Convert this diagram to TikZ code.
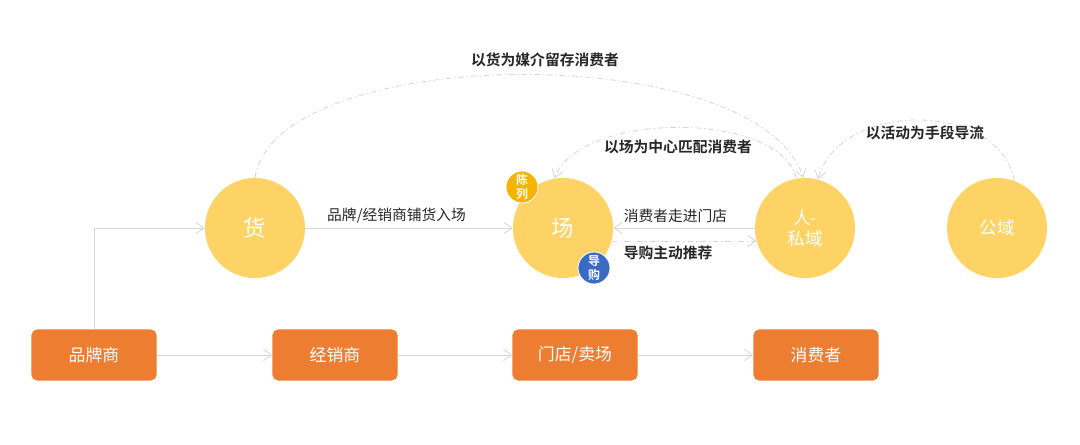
\documentclass[tikz,border=0pt]{standalone}
\usepackage{fontspec}
\setmainfont{Noto Sans CJK SC}[BoldFont={Noto Sans CJK SC Bold}]
\usetikzlibrary{arrows.meta}
\definecolor{roleyellow}{HTML}{FDD365}
\definecolor{tierorange}{HTML}{ED7D31}
\definecolor{badgegold}{HTML}{F4B400}
\definecolor{badgeblue}{HTML}{3A6BC4}
\definecolor{linegray}{HTML}{D6D6D6}
\definecolor{darktext}{HTML}{262626}

\begin{document}
\begin{tikzpicture}[x=0.025cm, y=-0.025cm,
    role/.style={circle, fill=roleyellow, text=white, minimum size=2.5cm, inner sep=0pt, align=center, font=\fontsize{12.5}{15}\selectfont},
    tier/.style={rectangle, rounded corners=0.14cm, fill=tierorange, text=white, minimum width=3.125cm, minimum height=1.275cm, font=\fontsize{12}{14}\selectfont},
    badge/.style={circle, draw=white, line width=0.6pt, text=white, minimum size=0.8cm, inner sep=0pt, align=center, font=\bfseries\fontsize{8.5}{9.6}\selectfont},
    flow/.style={draw=linegray, line width=0.6pt, -{Straight Barb[length=0.2cm,width=0.28cm]}},
    backflow/.style={flow, dash pattern=on 4pt off 2pt on 1pt off 2pt},
    note/.style={text=darktext, font=\fontsize{10.5}{12}\selectfont},
    boldnote/.style={note, font=\bfseries\fontsize{10.5}{12}\selectfont}]

    \useasboundingbox (0,0) rectangle (1080,445);

    \node [role, font=\fontsize{16}{18}\selectfont] (goods) at (255,228) {货};
    \node [role, font=\fontsize{16}{18}\selectfont] (field) at (563,228) {场};
    \node [role] (person) at (805,228) {人-\\私域};
    \node [role] (public) at (997,228) {公域};

    \node [badge, fill=badgegold] (display) at (522,187) {陈\\列};
    \node [badge, fill=badgeblue] (guide) at (594,268) {导\\购};

    \node [tier] (brand) at (94,355) {品牌商};
    \node [tier] (dealer) at (335,355) {经销商};
    \node [tier] (store) at (575,355) {门店/卖场};
    \node [tier] (consumer) at (816,355) {消费者};

    \draw [flow] (brand) -- (dealer);
    \draw [flow] (dealer) -- (store);
    \draw [flow] (store) -- (consumer);
    \draw [flow] (brand.north) |- (goods.west);

    \draw [flow] (goods.east) -- (field.west) node[note, above, pos=0.44] (stocking) {品牌/经销商铺货入场};
    \draw [flow] (person.west) -- (field.east) node[note, above, pos=0.56] (walkin) {消费者走进门店};
    \draw [backflow] (field.-15) -- (person.195) node[boldnote, below, pos=0.39] (recommend) {导购主动推荐};

    \draw [backflow] (goods.north) .. controls +(20,-135) and +(-45,-140) .. (person.92);
    \draw [backflow] (person.100) .. controls +(-16,-68) and +(26,-68) .. (field.100);
    \draw [backflow] (public.70) .. controls +(-14,-80) and +(22,-80) .. (person.75);

    \node [boldnote] (keepgoods) at (545,60) {以货为媒介留存消费者};
    \node [boldnote] (matchfield) at (678,147) {以场为中心匹配消费者};
    \node [boldnote] (drawflow) at (925,133) {以活动为手段导流};

\end{tikzpicture}
\end{document}
